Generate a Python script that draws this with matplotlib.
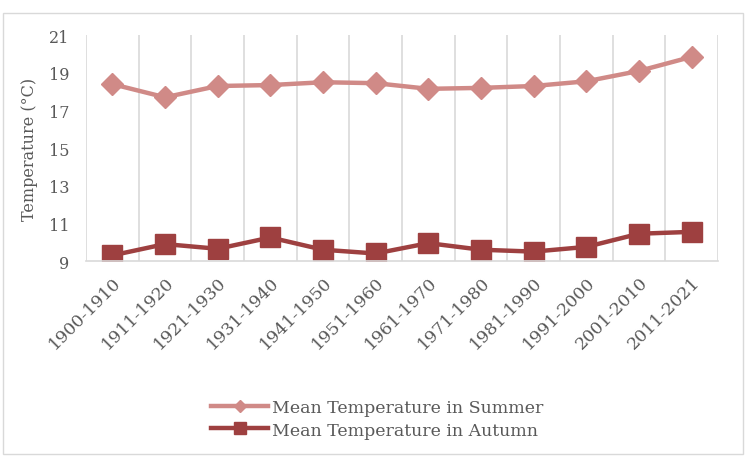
import matplotlib
matplotlib.use("Agg")
import matplotlib.pyplot as plt
from matplotlib.patches import Rectangle

categories = ["1900-1910", "1911-1920", "1921-1930", "1931-1940", "1941-1950", "1951-1960",
              "1961-1970", "1971-1980", "1981-1990", "1991-2000", "2001-2010", "2011-2021"]
summer = [18.4, 17.7, 18.3, 18.35, 18.5, 18.45, 18.15, 18.2, 18.3, 18.55, 19.1, 19.85]
autumn = [9.3, 9.9, 9.65, 10.25, 9.6, 9.4, 9.95, 9.6, 9.5, 9.75, 10.45, 10.55]
yticks = [9, 11, 13, 15, 17, 19, 21]

plt.rcParams['font.family'] = ['DejaVu Serif']
text_color = '#595959'
grid_color = '#D9D9D9'
c_summer = '#D08A87'
c_autumn = '#9E4040'

fig = plt.figure(figsize=(7.5, 4.64), dpi=100)
fig.patches.append(Rectangle((0.004, 0.019), 0.987, 0.951, transform=fig.transFigure,
                             fill=False, edgecolor='#D9D9D9', linewidth=1))
ax = fig.add_axes([0.1147, 0.4353, 0.8426, 0.4867])

x = list(range(len(categories)))
ax.plot(x, summer, color=c_summer, lw=3.2, marker='D', markersize=11,
        label='Mean Temperature in Summer', solid_joinstyle='round')
ax.plot(x, autumn, color=c_autumn, lw=3.2, marker='s', markersize=14,
        label='Mean Temperature in Autumn', solid_joinstyle='round')

ax.set_xlim(-0.5, len(categories) - 0.5)
ax.set_ylim(9, 21)
ax.set_yticks(yticks)
ax.set_yticklabels([str(v) for v in yticks], fontsize=11.5, color=text_color)
ax.set_xticks(x)
ax.set_xticklabels(categories, rotation=45, ha='right', rotation_mode='anchor',
                   fontsize=12.5, color=text_color)
ax.tick_params(axis='x', length=0, pad=9)
ax.tick_params(axis='y', length=0, pad=12)
for b in [i - 0.5 for i in range(len(categories) + 1)]:
    ax.axvline(b, color=grid_color, lw=1.2, zorder=0)
for s in ['top', 'right', 'left']:
    ax.spines[s].set_visible(False)
ax.spines['bottom'].set_color(grid_color)
ax.spines['bottom'].set_linewidth(1.2)
ax.set_ylabel('Temperature (°C)', fontsize=11.5, color=text_color, labelpad=8)

leg = fig.legend(loc='center', bbox_to_anchor=(0.503, 0.095), ncol=1, frameon=False,
                 fontsize=12.5, handlelength=3.3, handletextpad=0.2, labelspacing=0.3,
                 labelcolor=text_color, markerscale=0.6)

fig.savefig('out.png', dpi=100)
